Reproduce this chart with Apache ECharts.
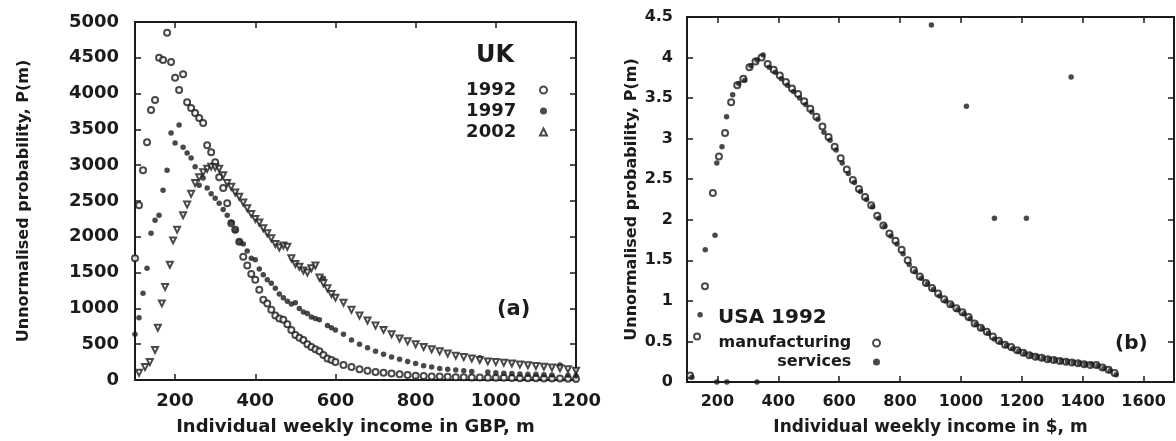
<!DOCTYPE html>
<html>
<head>
<meta charset="utf-8">
<title>Income distributions</title>
<script src="https://cdn.jsdelivr.net/npm/echarts@6/dist/echarts.min.js"></script>
<style>
	html, body { margin: 0; padding: 0; background: #fff; }
	#chart { width: 1176px; height: 441px; }
</style>
</head>
<body>
<div id="chart"></div>
<script>
	// (a) UK, weekly income in GBP
	let ukYears = ['1992', '1997', '2002'];
	let uk1992 = [
		[100, 1700], [110, 2440], [120, 2930], [130, 3320], [140, 3770], [150, 3910], [160, 4500], [170, 4470],
		[180, 4850], [190, 4440], [200, 4220], [210, 4050], [220, 4270], [230, 3880], [240, 3800], [250, 3730],
		[260, 3660], [270, 3590], [280, 3280], [290, 3180], [300, 3040], [310, 2830], [320, 2680], [330, 2470],
		[340, 2190], [350, 2100], [360, 1930], [370, 1720], [380, 1600], [390, 1480], [400, 1400], [410, 1260],
		[420, 1120], [430, 1070], [440, 980], [450, 900], [460, 860], [470, 840], [480, 780], [490, 700],
		[500, 630], [510, 590], [520, 560], [530, 500], [540, 460], [550, 430], [560, 400], [570, 350],
		[580, 300], [590, 280], [600, 250], [620, 210], [640, 180], [660, 150], [680, 130], [700, 110],
		[720, 100], [740, 90], [760, 80], [780, 70], [800, 60], [820, 55], [840, 50], [860, 48], [880, 45],
		[900, 40], [920, 38], [940, 35], [960, 35], [980, 32], [1000, 30], [1020, 30], [1040, 28], [1060, 26],
		[1080, 25], [1100, 25], [1120, 22], [1140, 20], [1160, 20], [1180, 18], [1200, 15]
	];
	let uk1997 = [
		[100, 640], [110, 870], [120, 1210], [130, 1560], [140, 2050], [150, 2230], [160, 2300], [170, 2650],
		[180, 2930], [190, 3450], [200, 3310], [210, 3560], [220, 3250], [230, 3170], [240, 3100], [250, 2980],
		[260, 2720], [270, 2820], [280, 2680], [290, 2600], [300, 2540], [310, 2470], [320, 2380], [330, 2300],
		[340, 2200], [350, 2090], [360, 1930], [370, 1900], [380, 1800], [390, 1700], [400, 1680], [410, 1550],
		[420, 1470], [430, 1400], [440, 1350], [450, 1280], [460, 1200], [470, 1150], [480, 1100], [490, 1060],
		[500, 1080], [510, 1000], [520, 950], [530, 930], [540, 880], [550, 860], [560, 840], [570, 1420],
		[580, 760], [590, 730], [600, 700], [620, 640], [640, 560], [660, 500], [680, 450], [700, 400],
		[720, 360], [740, 320], [760, 290], [780, 260], [800, 230], [820, 200], [840, 180], [860, 160],
		[880, 150], [900, 140], [920, 130], [940, 120], [960, 310], [980, 110], [1000, 100], [1020, 95],
		[1040, 90], [1060, 85], [1080, 80], [1100, 80], [1120, 75], [1140, 70], [1160, 210], [1180, 65], [1200, 60]
	];
	let uk2002 = [
		[110, 100], [125, 180], [137, 250], [150, 420], [157, 730], [167, 1070], [175, 1300], [187, 1610],
		[195, 1950], [205, 2100], [220, 2300], [230, 2450], [240, 2600], [250, 2750], [260, 2830], [270, 2900],
		[280, 2950], [290, 2980], [300, 2970], [310, 2950], [320, 2860], [330, 2750], [340, 2700], [350, 2620],
		[360, 2560], [370, 2480], [380, 2400], [390, 2320], [400, 2250], [410, 2200], [420, 2120], [430, 2050],
		[440, 1980], [450, 1900], [460, 1850], [470, 1880], [480, 1860], [490, 1700], [500, 1620], [510, 1580],
		[520, 1530], [530, 1500], [540, 1560], [550, 1600], [560, 1430], [570, 1350], [580, 1280], [590, 1200],
		[600, 1150], [620, 1080], [640, 980], [660, 900], [680, 830], [700, 760], [720, 700], [740, 640],
		[760, 580], [780, 540], [800, 500], [820, 460], [840, 430], [860, 400], [880, 370], [900, 340],
		[920, 320], [940, 300], [960, 280], [980, 260], [1000, 250], [1020, 240], [1040, 230], [1060, 215],
		[1080, 205], [1100, 195], [1120, 185], [1140, 175], [1160, 165], [1180, 150], [1200, 130]
	];

	// (b) USA 1992, weekly income in $
	let usaSectors = ['manufacturing', 'services'];
	let usaManufacturing = [
		[110, 0.08], [133, 0.56], [159, 1.18], [185, 2.33], [205, 2.78], [225, 3.07], [245, 3.45], [265, 3.66],
		[285, 3.74], [305, 3.88], [325, 3.95], [345, 4.00], [365, 3.92], [385, 3.85], [405, 3.78], [425, 3.70],
		[445, 3.62], [465, 3.55], [485, 3.46], [505, 3.37], [525, 3.27], [545, 3.15], [565, 3.02], [585, 2.90],
		[605, 2.76], [625, 2.62], [645, 2.49], [665, 2.38], [685, 2.28], [705, 2.18], [725, 2.05], [745, 1.93],
		[765, 1.83], [785, 1.74], [805, 1.63], [825, 1.50], [845, 1.38], [865, 1.30], [885, 1.22], [905, 1.16],
		[925, 1.09], [945, 1.02], [965, 0.96], [985, 0.91], [1005, 0.86], [1025, 0.80], [1045, 0.72], [1065, 0.67],
		[1085, 0.62], [1105, 0.56], [1125, 0.51], [1145, 0.46], [1165, 0.43], [1185, 0.39], [1205, 0.36], [1225, 0.33],
		[1245, 0.31], [1265, 0.30], [1285, 0.28], [1305, 0.27], [1325, 0.26], [1345, 0.25], [1365, 0.24], [1385, 0.23],
		[1405, 0.22], [1425, 0.21], [1445, 0.21], [1465, 0.18], [1485, 0.15], [1505, 0.11]
	];
	let usaServices = [
		[116, 0.06], [143, 0.83], [160, 1.63], [192, 1.81], [198, 2.70], [215, 2.90], [230, 3.27], [250, 3.54],
		[270, 3.68], [290, 3.72], [310, 3.90], [330, 3.97], [350, 4.03], [370, 3.88], [390, 3.82], [410, 3.74],
		[430, 3.66], [450, 3.58], [470, 3.50], [490, 3.42], [510, 3.33], [530, 3.24], [550, 3.08], [570, 2.98],
		[590, 2.86], [610, 2.70], [630, 2.57], [650, 2.46], [670, 2.35], [690, 2.25], [710, 2.16], [730, 2.02],
		[750, 1.92], [770, 1.80], [790, 1.70], [810, 1.58], [830, 1.45], [850, 1.36], [870, 1.28], [890, 1.21],
		[910, 1.14], [930, 1.06], [950, 1.00], [970, 0.95], [990, 0.89], [1010, 0.84], [1030, 0.78], [1050, 0.71],
		[1070, 0.66], [1090, 0.60], [1110, 0.53], [1130, 0.49], [1150, 0.45], [1170, 0.41], [1190, 0.38], [1210, 0.35],
		[1230, 0.33], [1250, 0.31], [1270, 0.29], [1290, 0.28], [1310, 0.27], [1330, 0.26], [1350, 0.25], [1370, 0.24],
		[1390, 0.23], [1410, 0.22], [1430, 0.22], [1450, 0.20], [1470, 0.17], [1490, 0.14], [1510, 0.09],
		[198, 0], [231, 0], [330, 0], [903, 4.40], [1018, 3.40], [1362, 3.76], [1110, 2.02], [1215, 2.02]
	];

	let ukTicks = [200, 400, 600, 800, 1000, 1200];
	let usaTicks = [200, 400, 600, 800, 1000, 1200, 1400, 1600];

	let ink = '#1b1b1b';
	let font = 'DejaVu Sans';

	function frameAxis(opt) {
		let base = {
			type: 'value',
			splitLine: { show: false },
			axisLine: { show: true, onZero: false, lineStyle: { color: ink, width: 2 } },
			axisTick: { show: true, inside: true, length: 6, lineStyle: { color: ink, width: 1.5 } },
			axisLabel: { show: false }
		};
		return Object.assign(base, opt);
	}

	function label(size, margin, values) {
		let l = {
			show: true, color: ink, fontFamily: font, fontWeight: 'bold', fontSize: size, margin: margin,
			formatter: function(v) { return String(v); }
		};
		if (values) l.customValues = values;
		return l;
	}

	function tick(values) {
		let t = { show: true, inside: true, length: 6, lineStyle: { color: ink, width: 1.5 } };
		if (values) t.customValues = values;
		return t;
	}

	let nameStyle = function(size) {
		return { color: ink, fontFamily: font, fontWeight: 'bold', fontSize: size };
	};

	let option = {
		backgroundColor: '#fff',
		animation: false,
		grid: [
			{ left: 135, top: 22, width: 441, height: 358 },
			{ left: 687, top: 17, width: 487, height: 365 }
		],
		xAxis: [
			frameAxis({
				gridIndex: 0, min: 100, max: 1200, position: 'bottom',
				axisTick: tick(ukTicks), axisLabel: label(18, 12, ukTicks),
				name: 'Individual weekly income in GBP, m', nameLocation: 'middle', nameGap: 38,
				nameTextStyle: nameStyle(18)
			}),
			frameAxis({ gridIndex: 0, min: 100, max: 1200, position: 'top', axisTick: tick(ukTicks) }),
			frameAxis({
				gridIndex: 1, min: 100, max: 1700, position: 'bottom',
				axisTick: tick(usaTicks), axisLabel: label(16, 12, usaTicks),
				name: 'Individual weekly income in $, m', nameLocation: 'middle', nameGap: 37,
				nameTextStyle: nameStyle(17)
			}),
			frameAxis({ gridIndex: 1, min: 100, max: 1700, position: 'top', axisTick: tick(usaTicks) })
		],
		yAxis: [
			frameAxis({
				gridIndex: 0, min: 0, max: 5000, interval: 500, position: 'left',
				axisTick: tick(), axisLabel: label(18, 16),
				name: 'Unnormalised probability, P(m)', nameLocation: 'middle', nameGap: 103,
				nameTextStyle: nameStyle(16)
			}),
			frameAxis({ gridIndex: 0, min: 0, max: 5000, interval: 500, position: 'right', axisTick: tick() }),
			frameAxis({
				gridIndex: 1, min: 0, max: 4.5, interval: 0.5, position: 'left',
				axisTick: tick(), axisLabel: label(16, 14),
				name: 'Unnormalised probability, P(m)', nameLocation: 'middle', nameGap: 47,
				nameTextStyle: nameStyle(16)
			}),
			frameAxis({ gridIndex: 1, min: 0, max: 4.5, interval: 0.5, position: 'right', axisTick: tick() })
		],
		title: [
			{ text: 'UK', left: 476, top: 44, padding: 0, textStyle: { color: ink, fontFamily: font, fontWeight: 'bold', fontSize: 24 } },
			{ text: '(a)', left: 497, top: 299, padding: 0, textStyle: { color: ink, fontFamily: font, fontWeight: 'bold', fontSize: 21 } },
			{ text: 'USA 1992', left: 718, top: 308, padding: 0, textStyle: { color: ink, fontFamily: font, fontWeight: 'bold', fontSize: 20 } },
			{ text: '(b)', left: 1115, top: 334, padding: 0, textStyle: { color: ink, fontFamily: font, fontWeight: 'bold', fontSize: 20 } }
		],
		legend: [
			{
				data: ukYears, orient: 'vertical', align: 'right', right: 628, top: 81, padding: 0,
				itemGap: 3, itemWidth: 7, itemHeight: 7, selectedMode: false,
				formatter: function(name) { return name + '   '; },
				textStyle: { color: ink, fontFamily: font, fontWeight: 'bold', fontSize: 18 }
			},
			{
				data: usaSectors, orient: 'vertical', align: 'right', right: 295, top: 335, padding: 0,
				itemGap: 3, itemWidth: 7, itemHeight: 7, selectedMode: false,
				formatter: function(name) { return name + '   '; },
				textStyle: { color: ink, fontFamily: font, fontWeight: 'bold', fontSize: 16 }
			}
		],
		series: [
			{
				name: '1992', type: 'scatter', xAxisIndex: 0, yAxisIndex: 0, data: uk1992,
				symbol: 'emptyCircle', symbolSize: 6, itemStyle: { color: ink, borderWidth: 1.5 }
			},
			{
				name: '1997', type: 'scatter', xAxisIndex: 0, yAxisIndex: 0, data: uk1997,
				symbol: 'circle', symbolSize: 5.5, itemStyle: { color: ink }
			},
			{
				name: '2002', type: 'scatter', xAxisIndex: 0, yAxisIndex: 0, data: uk2002,
				symbol: 'emptyTriangle', symbolRotate: 180, symbolSize: 6, itemStyle: { color: ink, borderWidth: 1.5 }
			},
			{
				name: 'manufacturing', type: 'scatter', xAxisIndex: 2, yAxisIndex: 2, data: usaManufacturing,
				symbol: 'emptyCircle', symbolSize: 6, itemStyle: { color: ink, borderWidth: 1.5 }
			},
			{
				name: 'services', type: 'scatter', xAxisIndex: 2, yAxisIndex: 2, data: usaServices,
				symbol: 'circle', symbolSize: 5.5, itemStyle: { color: ink }
			}
		]
	};

	let chart = echarts.init(document.getElementById('chart'));
	chart.setOption(option);
</script>
</body>
</html>
